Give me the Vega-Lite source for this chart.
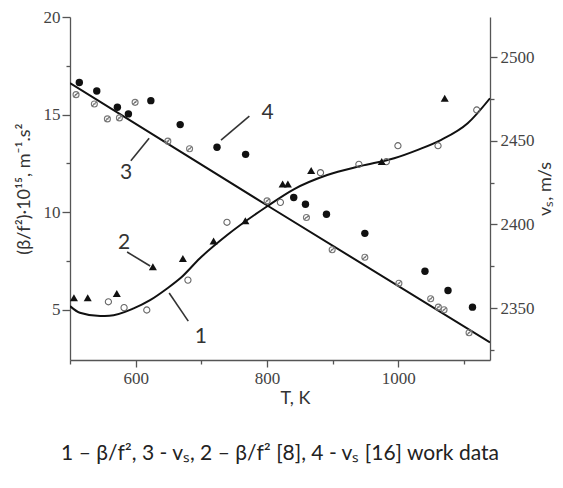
{
  "$schema": "https://vega.github.io/schema/vega-lite/v6.json",
  "width": 420,
  "height": 343,
  "autosize": {"type": "none"},
  "padding": {"left": 70, "top": 17, "right": 73, "bottom": 128},
  "background": "white",
  "config": {
    "view": {"stroke": null},
    "axis": {
      "domainColor": "#555555",
      "domainWidth": 1.3,
      "tickColor": "#555555",
      "tickWidth": 1.3,
      "grid": false,
      "labelFont": "Liberation Serif",
      "labelFontSize": 17,
      "labelColor": "#444444",
      "titleFont": "Lato",
      "titleFontSize": 18,
      "titleFontWeight": "normal",
      "titleColor": "#333333"
    }
  },
  "title": {
    "text": "1 – β/f², 3 - vₛ, 2 – β/f² [8], 4 - vₛ [16] work data",
    "orient": "bottom",
    "anchor": "middle",
    "font": "Lato",
    "fontSize": 21,
    "fontWeight": "normal",
    "color": "#222222",
    "offset": 36
  },
  "datasets": {
    "curve1": [
      {"T": 500, "v": 5.2}, {"T": 515, "v": 4.86}, {"T": 546, "v": 4.69}, {"T": 560, "v": 4.7},
      {"T": 597, "v": 5.08}, {"T": 622, "v": 5.5}, {"T": 648, "v": 6.1}, {"T": 668, "v": 6.62},
      {"T": 698, "v": 7.65}, {"T": 740, "v": 8.85}, {"T": 800, "v": 10.3}, {"T": 841, "v": 11.18}, {"T": 892, "v": 11.91},
      {"T": 943, "v": 12.37}, {"T": 994, "v": 12.77}, {"T": 1030, "v": 13.2}, {"T": 1065, "v": 13.7},
      {"T": 1106, "v": 14.56}, {"T": 1140, "v": 15.84}
    ],
    "curve3": [
      {"T": 500, "v": 2484.5}, {"T": 800, "v": 2411.5}, {"T": 1140, "v": 2329.5}
    ],
    "open": [
      {"T": 558.5, "v": 5.42}, {"T": 582.4, "v": 5.12}, {"T": 617, "v": 5.0}, {"T": 679.7, "v": 6.53},
      {"T": 739.2, "v": 9.49}, {"T": 820.6, "v": 10.51}, {"T": 881.7, "v": 12.03}, {"T": 940.2, "v": 12.46},
      {"T": 982, "v": 12.59}, {"T": 999.7, "v": 13.41}, {"T": 1060.8, "v": 13.41}, {"T": 1119.8, "v": 15.24}
    ],
    "tri": [
      {"T": 506, "v": 5.63}, {"T": 527, "v": 5.63}, {"T": 571.3, "v": 5.85}, {"T": 626.3, "v": 7.21},
      {"T": 672, "v": 7.64}, {"T": 718.8, "v": 8.53}, {"T": 767.2, "v": 9.57}, {"T": 824, "v": 11.45},
      {"T": 832, "v": 11.45}, {"T": 867.5, "v": 12.14}, {"T": 975, "v": 12.6}, {"T": 1071, "v": 15.84}
    ],
    "cross": [
      {"T": 509.2, "v": 2477.6}, {"T": 537.1, "v": 2472}, {"T": 557, "v": 2463.1}, {"T": 575.3, "v": 2463.7},
      {"T": 599.2, "v": 2473}, {"T": 649.1, "v": 2449.8}, {"T": 682.2, "v": 2445.3}, {"T": 800.3, "v": 2414.1},
      {"T": 860.3, "v": 2404.2}, {"T": 899.5, "v": 2384.9}, {"T": 949.3, "v": 2380.4}, {"T": 1001.2, "v": 2364.9},
      {"T": 1049.6, "v": 2355.6}, {"T": 1061.3, "v": 2350.6}, {"T": 1070, "v": 2349}, {"T": 1108.1, "v": 2335.3}
    ],
    "filled": [
      {"T": 514.2, "v": 2484.9}, {"T": 540.8, "v": 2479.8}, {"T": 572.2, "v": 2470.1}, {"T": 589, "v": 2466.1},
      {"T": 623.2, "v": 2474}, {"T": 667.9, "v": 2459.7}, {"T": 724, "v": 2446.2}, {"T": 767.6, "v": 2441.9},
      {"T": 840.9, "v": 2416.1}, {"T": 858.8, "v": 2412.1}, {"T": 890.8, "v": 2406.1}, {"T": 949.3, "v": 2394.7},
      {"T": 1040.9, "v": 2372}, {"T": 1076, "v": 2360.5}, {"T": 1113.3, "v": 2350.6}
    ],
    "labels": [
      {"T": 699.5, "v": 3.63, "text": "1"},
      {"T": 582.4, "v": 8.41, "text": "2"},
      {"T": 585.5, "v": 12.0, "text": "3"},
      {"T": 801.2, "v": 15.07, "text": "4"}
    ],
    "leaders": [
      {"T": 651.1, "v": 5.87, "T2": 680.2, "v2": 4.43},
      {"T": 587, "v": 7.97, "T2": 622.1, "v2": 7.25},
      {"T": 592.7, "v": 12.64, "T2": 620.6, "v2": 13.79},
      {"T": 730.1, "v": 13.7, "T2": 773.3, "v2": 14.93}
    ]
  },
  "layer": [
    {
      "data": {"name": "curve1"},
      "mark": {"type": "line", "color": "#111111", "strokeWidth": 2, "interpolate": "monotone", "clip": true},
      "encoding": {
        "x": {
          "field": "T", "type": "quantitative",
          "scale": {"domain": [500, 1140], "nice": false, "zero": false},
          "axis": {
            "title": "T, K",
            "titleX": 225,
            "values": [500, 600, 700, 800, 900, 1000, 1100],
            "labelExpr": "datum.value % 200 === 0 ? datum.label : ''",
            "format": "d",
            "tickSize": {"condition": {"test": "datum.value % 200 === 0", "value": 7}, "value": 4},
            "labelPadding": 3,
            "titlePadding": 3
          }
        },
        "y": {
          "field": "v", "type": "quantitative",
          "scale": {"domain": [2.44, 20], "nice": false, "zero": false},
          "axis": {
            "orient": "left",
            "title": "(β/f²)·10¹⁵, m⁻¹.s²",
            "values": [5, 7.5, 10, 12.5, 15, 17.5, 20],
            "labelExpr": "datum.value % 5 === 0 ? datum.label : ''",
            "tickSize": {"condition": {"test": "datum.value % 5 === 0", "value": 8}, "value": 4},
            "labelPadding": 2,
            "titlePadding": 10
          }
        }
      }
    },
    {
      "data": {"name": "curve3"},
      "mark": {"type": "line", "color": "#111111", "strokeWidth": 2, "clip": true},
      "encoding": {
        "x": {"field": "T", "type": "quantitative"},
        "y": {
          "field": "v", "type": "quantitative",
          "scale": {"domain": [2319, 2524], "nice": false, "zero": false},
          "axis": {
            "orient": "right",
            "title": "vₛ, m/s",
            "titleAngle": -90,
            "titleBaseline": "bottom",
            "values": [2325, 2350, 2375, 2400, 2425, 2450, 2475, 2500],
            "labelExpr": "datum.value % 50 === 0 ? datum.label : ''",
            "format": "d",
            "tickSize": {"condition": {"test": "datum.value % 50 === 0", "value": 7}, "value": 4},
            "labelPadding": 3,
            "titlePadding": 20
          }
        }
      }
    },
    {
      "data": {"name": "leaders"},
      "mark": {"type": "rule", "color": "#333333", "strokeWidth": 1.6},
      "encoding": {
        "x": {"field": "T", "type": "quantitative"},
        "x2": {"field": "T2"},
        "y": {"field": "v", "type": "quantitative", "scale": {"domain": [2.44, 20], "nice": false, "zero": false}, "axis": null},
        "y2": {"field": "v2"}
      }
    },
    {
      "data": {"name": "labels"},
      "mark": {"type": "text", "font": "Lato", "fontSize": 21, "color": "#333333", "align": "center", "baseline": "middle"},
      "encoding": {
        "x": {"field": "T", "type": "quantitative"},
        "y": {"field": "v", "type": "quantitative", "scale": {"domain": [2.44, 20], "nice": false, "zero": false}, "axis": null},
        "text": {"field": "text"}
      }
    },
    {
      "data": {"name": "open"},
      "mark": {"type": "point", "shape": "circle", "filled": false, "size": 38, "stroke": "#666666", "strokeWidth": 1.1, "opacity": 1},
      "encoding": {
        "x": {"field": "T", "type": "quantitative"},
        "y": {"field": "v", "type": "quantitative", "scale": {"domain": [2.44, 20], "nice": false, "zero": false}, "axis": null}
      }
    },
    {
      "data": {"name": "tri"},
      "mark": {"type": "point", "shape": "triangle-up", "filled": true, "size": 65, "color": "#111111", "opacity": 1},
      "encoding": {
        "x": {"field": "T", "type": "quantitative"},
        "y": {"field": "v", "type": "quantitative", "scale": {"domain": [2.44, 20], "nice": false, "zero": false}, "axis": null}
      }
    },
    {
      "data": {"name": "cross"},
      "mark": {"type": "point", "shape": "M -1 0 A 1 1 0 1 0 1 0 A 1 1 0 1 0 -1 0 Z M -0.8 0.8 L 0.8 -0.8 M -0.4 0 L 0.4 0", "filled": false, "size": 36, "stroke": "#777777", "strokeWidth": 1.1, "opacity": 1},
      "encoding": {
        "x": {"field": "T", "type": "quantitative"},
        "y": {"field": "v", "type": "quantitative", "scale": {"domain": [2319, 2524], "nice": false, "zero": false}, "axis": null}
      }
    },
    {
      "data": {"name": "filled"},
      "mark": {"type": "point", "shape": "circle", "filled": true, "size": 55, "color": "#111111", "opacity": 1},
      "encoding": {
        "x": {"field": "T", "type": "quantitative"},
        "y": {"field": "v", "type": "quantitative", "scale": {"domain": [2319, 2524], "nice": false, "zero": false}, "axis": null}
      }
    }
  ],
  "resolve": {"scale": {"y": "independent"}}
}
